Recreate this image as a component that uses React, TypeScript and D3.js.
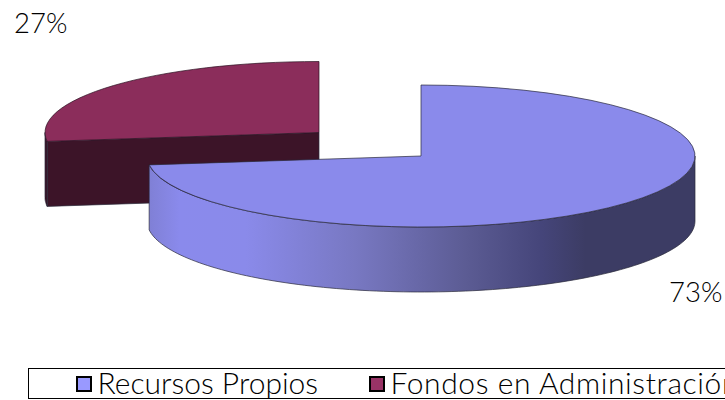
import React from "react";
import * as d3 from "d3";

const categories = ["Recursos Propios", "Fondos en Administración"];
const values = [73, 27];
const labels = ["73%", "27%"];
const topColors = ["#8a8aeb", "#8b2d5b"];
const legendColors = ["#9999ff", "#993366"];

const W = 725, H = 400;
const rx = 274, ry = 71, depth = 65;
const centers: [number, number][] = [[421, 156], [319, 132.5]];
const font = "Lato, 'Open Sans', sans-serif";

const arcs = d3.pie<number>().sort(null).value(d => d)(values);
const unitArc = d3.arc<any>().innerRadius(0).outerRadius(1);
const line = d3.line<[number, number]>();

const pt = (c: [number, number], a: number, dy = 0): [number, number] => [
  c[0] + rx * Math.sin(a),
  c[1] - ry * Math.cos(a) + dy,
];
const arcPts = (c: [number, number], a0: number, a1: number, dy = 0) =>
  d3.range(0, 121).map(i => pt(c, a0 + ((a1 - a0) * i) / 120, dy));
const wall = (c: [number, number], a0: number, a1: number) =>
  line([...arcPts(c, a0, a1), ...arcPts(c, a1, a0, depth)]) + "Z";

const blueStops: [number, string][] = [
  [0, "#7f7fd4"], [0.06, "#8a8aec"], [0.18, "#8a8aea"], [0.38, "#7878c2"],
  [0.58, "#5c5c94"], [0.72, "#45457a"], [0.8, "#3c3c64"], [1, "#3c3c64"],
];

export default function App() {
  const [blue, maroon] = arcs;
  const mc = centers[1];
  const bc = centers[0];
  const stroke = { stroke: "#2a2a3a", strokeWidth: 0.7, strokeLinejoin: "round" as const };
  return (
    <svg width={W} height={H} viewBox={`0 0 ${W} ${H}`}
      style={{ position: "absolute", left: 0, top: 0, background: "#fff" }}>
      <defs>
        <linearGradient id="blueSide" gradientUnits="userSpaceOnUse" x1={bc[0] - rx} x2={bc[0] + rx} y1={0} y2={0}>
          {blueStops.map(([o, c]) => <stop key={o} offset={o} stopColor={c} />)}
        </linearGradient>
      </defs>

      {/* maroon slice: cut face, short rim, then top */}
      <path d={line([
        pt(mc, maroon.startAngle), mc, [mc[0], mc[1] + depth], pt(mc, maroon.startAngle, depth),
      ]) + "Z"} fill="#3c1428" {...stroke} />
      <path d={wall(mc, maroon.startAngle, (3 * Math.PI) / 2)} fill="#3c1428" {...stroke} />
      <path d={unitArc(maroon) as string}
        transform={`translate(${mc[0]},${mc[1]}) scale(${rx},${ry})`}
        fill={topColors[1]} stroke="#2a1020" strokeWidth={0.7} vectorEffect="non-scaling-stroke" />

      {/* blue slice: rim, then top */}
      <path d={wall(bc, Math.PI / 2, blue.endAngle)} fill="url(#blueSide)" {...stroke} />
      <path d={unitArc(blue) as string}
        transform={`translate(${bc[0]},${bc[1]}) scale(${rx},${ry})`}
        fill={topColors[0]} stroke="#2a2a3a" strokeWidth={0.7} vectorEffect="non-scaling-stroke" />

      <text x={14} y={33} fontFamily={font} fontSize={27.5} fontWeight={300} fill="#000">{labels[1]}</text>
      <text x={669} y={302} fontFamily={font} fontSize={27.5} fontWeight={300} fill="#000">{labels[0]}</text>

      <rect x={28.5} y={368.5} width={760} height={30} fill="#fff" stroke="#000" strokeWidth={1} />
      {categories.map((c, i) => {
        const mx = [77, 370][i];
        return (
          <g key={c}>
            <rect x={mx} y={377} width={14} height={14} fill={legendColors[i]} stroke="#000" strokeWidth={2} />
            <text x={mx + 20.5} y={394} fontFamily={font} fontSize={30} letterSpacing={[0, 0.6][i]} fontWeight={300} fill="#000">{c}</text>
          </g>
        );
      })}
    </svg>
  );
}
